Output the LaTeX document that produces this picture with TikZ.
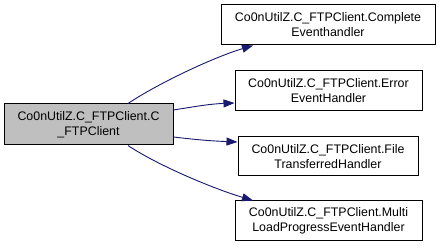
\documentclass[tikz,border=0pt]{standalone}
\usepackage{fontspec}
\setmainfont{Liberation Sans}
\usetikzlibrary{arrows.meta,calc}
\definecolor{edgeblue}{HTML}{191970}
\definecolor{focusgray}{HTML}{BFBFBF}
\begin{document}
\begin{tikzpicture}[x=1pt,y=1pt,
  box/.style={draw=black,line width=1pt,fill=white,align=center,inner sep=0pt,
    font=\fontsize{12.4}{15}\selectfont},
  focus/.style={box,fill=focusgray},
  call/.style={draw=edgeblue,line width=0.9pt,
    -{Triangle[length=11pt,width=8pt]}}]
\useasboundingbox (0,0) rectangle (441,248);
\fill[white] (0,0) rectangle (441,248);
% caller
\node[focus,minimum width=169,minimum height=41] (main) at (88.5,123.5)
  {Co0nUtilZ.C\_FTPClient.C\\\_FTPClient};
% callees
\node[box,minimum width=214,minimum height=40] (complete) at (328,223)
  {Co0nUtilZ.C\_FTPClient.Complete\\Eventhandler};
\node[box,minimum width=187,minimum height=40] (error) at (328.5,157)
  {Co0nUtilZ.C\_FTPClient.Error\\EventHandler};
\node[box,minimum width=180,minimum height=39] (file) at (328,91.5)
  {Co0nUtilZ.C\_FTPClient.File\\TransferredHandler};
\node[box,minimum width=187,minimum height=40] (multi) at (328.5,27)
  {Co0nUtilZ.C\_FTPClient.Multi\\LoadProgressEventHandler};
% call edges
\draw[call] ($(main.north)+(39.5,0)$) .. controls +(30,20) and +(-40,-12) .. ($(complete.south)+(-75,0)$);
\draw[call] ($(main.east)+(0,14.5)$) .. controls +(25,4) and +(-25,-1) .. ($(error.west)+(0,-12)$);
\draw[call] ($(main.east)+(0,-12.5)$) .. controls +(25,-3) and +(-25,1) .. ($(file.west)+(0,14.5)$);
\draw[call] ($(main.south)+(39.5,0)$) .. controls +(30,-20) and +(-40,12) .. ($(multi.north)+(-75.5,0)$);
\end{tikzpicture}
\end{document}
